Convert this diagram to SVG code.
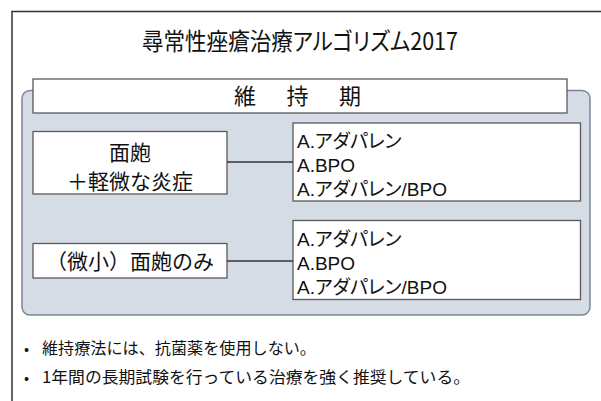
<svg xmlns="http://www.w3.org/2000/svg" width="601" height="401" viewBox="0 0 601 401">
<style>
  text { font-family: "Noto Sans CJK JP", "Noto Sans", sans-serif; fill: #111111; }
  .palt { font-feature-settings: "palt"; }
  .box { fill: #ffffff; stroke: #595959; stroke-width: 1.3; }
  .panel { fill: #d6dce5; stroke: #7a8595; stroke-width: 1.5; }
  .conn { stroke: #333333; stroke-width: 1.3; fill: none; }
  .frame { stroke: #333333; stroke-width: 1.5; fill: none; }
  .ctr { text-anchor: middle; }
  .drug { font-family: "Liberation Sans", "Noto Sans CJK JP", sans-serif; font-size: 19px; font-feature-settings: "palt"; }
</style>
<rect width="601" height="401" fill="#ffffff"/>
<path class="frame" d="M12 401 V11.5 H601"/>
<text class="palt" x="142" y="50" font-size="24" textLength="316" lengthAdjust="spacingAndGlyphs">尋常性痤瘡治療アルゴリズム2017</text>

<g id="panel">
  <rect class="panel" x="22" y="90.5" width="568" height="224.5" rx="8"/>
</g>
<g id="header">
  <rect class="box" x="33" y="79" width="534" height="34"/>
  <text x="234 286.5 339" y="104" font-size="22">維持期</text>
</g>
<g id="left1">
  <rect class="box" x="33" y="131.5" width="194" height="62.5"/>
  <text class="ctr" font-size="21"><tspan x="130" y="160">面皰</tspan><tspan x="130" y="189">＋軽微な炎症</tspan></text>
</g>
<g id="right1">
  <rect class="box" x="293" y="123" width="287.5" height="78"/>
  <text class="drug" x="297" y="148">A.アダパレン</text>
  <text class="drug" x="297" y="172">A.BPO</text>
  <text class="drug" x="297" y="196">A.アダパレン/BPO</text>
</g>
<g id="left2">
  <rect class="box" x="33" y="243.5" width="194" height="34.5"/>
  <text class="ctr" x="130" y="268.5" font-size="21">（微小）面皰のみ</text>
</g>
<g id="right2">
  <rect class="box" x="293" y="220.5" width="287.5" height="79"/>
  <text class="drug" x="297" y="246">A.アダパレン</text>
  <text class="drug" x="297" y="270">A.BPO</text>
  <text class="drug" x="297" y="294">A.アダパレン/BPO</text>
</g>
<g id="connectors">
  <line class="conn" x1="227" y1="162" x2="293" y2="162"/>
  <line class="conn" x1="227" y1="261" x2="293" y2="261"/>
</g>
<g id="notes">
  <text x="24" y="354" font-size="15">•</text>
  <text x="42" y="354" font-size="16" textLength="274" lengthAdjust="spacingAndGlyphs">維持療法には、抗菌薬を使用しない。</text>
  <text x="24" y="383" font-size="15">•</text>
  <text x="42" y="383" font-size="16" textLength="428" lengthAdjust="spacingAndGlyphs">1年間の長期試験を行っている治療を強く推奨している。</text>
</g>
</svg>
